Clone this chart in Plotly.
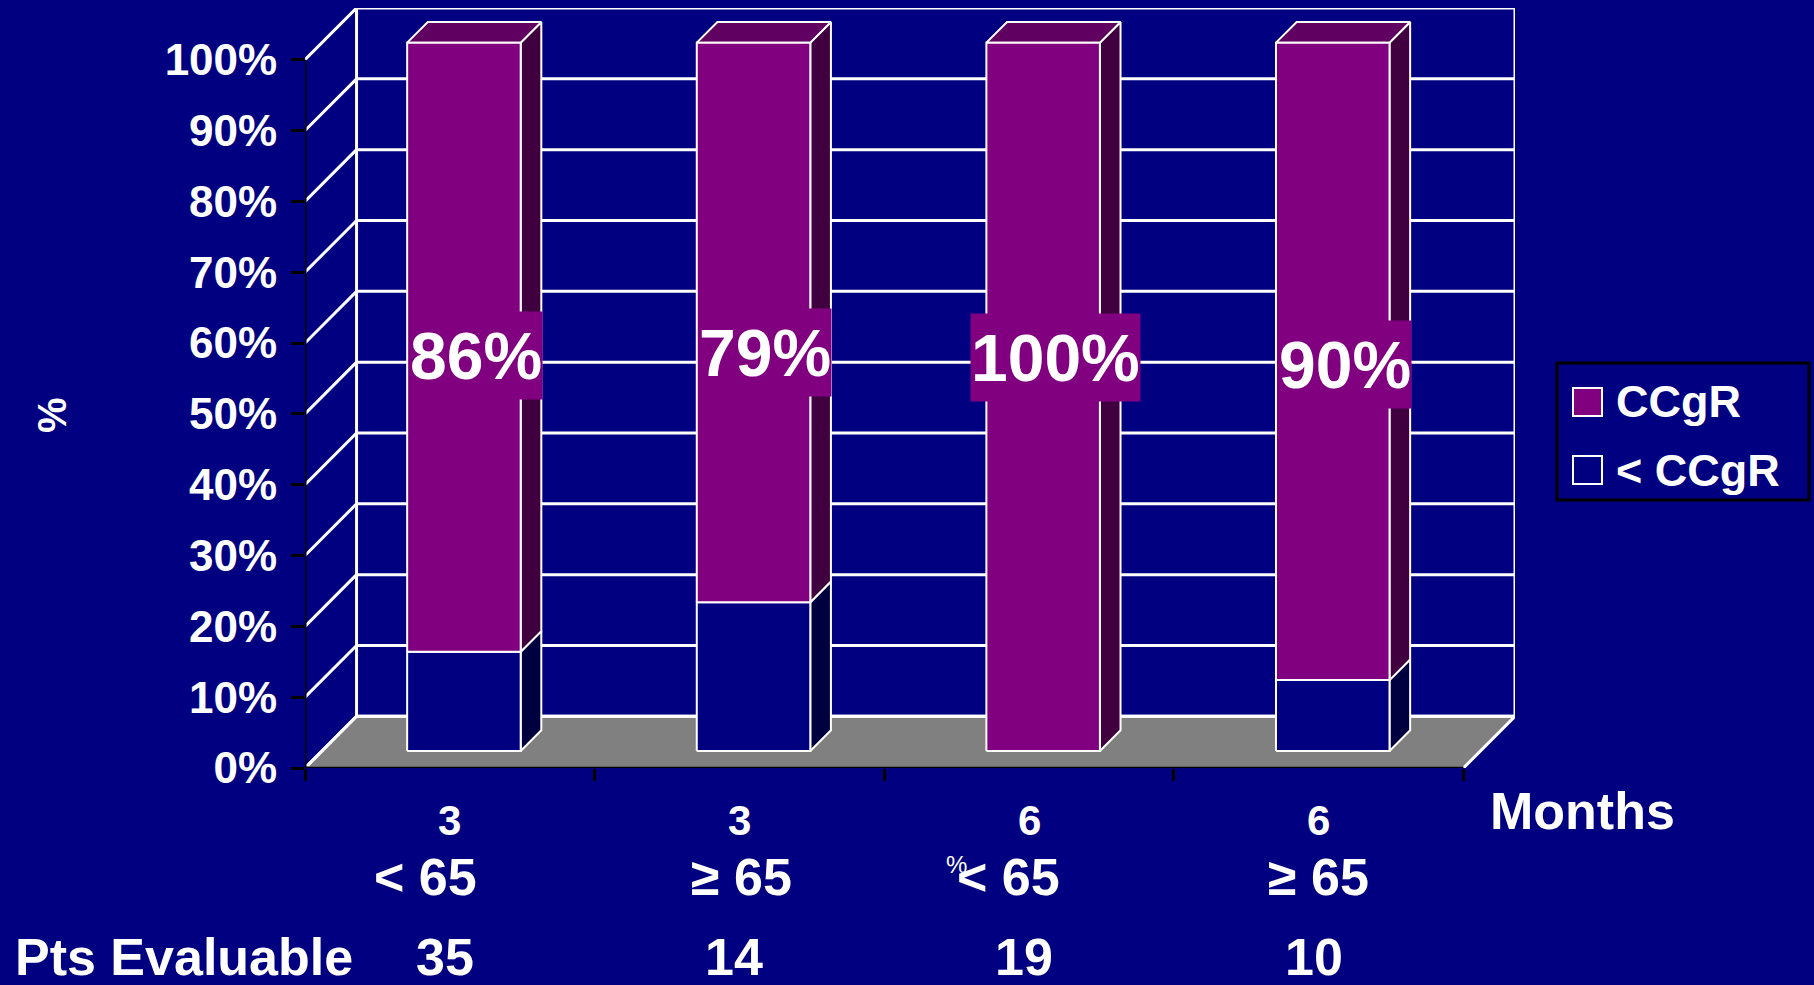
import plotly.graph_objects as go

# ---- data -------------------------------------------------------------
months = ["3", "3", "6", "6"]
age_groups = ["< 65", "\u2265 65", "< 65", "\u2265 65"]
pts_evaluable = [35, 14, 19, 10]
ccgr = [86, 79, 100, 90]          # % with complete cytogenetic response
below_ccgr = [14, 21, 0, 10]      # % with less than CCgR
y_ticks = [0, 10, 20, 30, 40, 50, 60, 70, 80, 90, 100]

# ---- styling / geometry ----------------------------------------------
W, H = 1814, 985
PL, PR, PT, PB = 305, 1515, 8, 768          # plot-area edges in pixels
NAVY = "#000080"
PURPLE = "#800080"
FONT = "Liberation Sans, Arial, sans-serif"
N = len(months)
DX, DY = 0.178, 7.3           # oblique depth offset in axis units
F0, F1 = 0.33, 0.73           # bar front/back depth fractions
BAR_C, BAR_HW = 0.49, 0.196   # bar centre within category, half-width

series = [
    dict(name="< CCgR", values=below_ccgr,
         front=NAVY, side="#000040", top="#000060"),
    dict(name="CCgR", values=ccgr,
         front=PURPLE, side="#400040", top="#600060"),
]


def paper_x(pix):
    return (pix - PL) / (PR - PL)


def paper_y(pix):
    return (PB - pix) / (PB - PT)


def bold(size):
    return dict(family=FONT, size=size, color="white", weight="bold")


fig = go.Figure()


def poly(xs, ys, fill, line_color="white", width=2):
    fig.add_trace(go.Scatter(
        x=list(xs) + [xs[0]], y=list(ys) + [ys[0]],
        mode="lines", fill="toself", fillcolor=fill,
        line=dict(color=line_color, width=width),
        showlegend=False, hoverinfo="skip"))


def seg(xs, ys, color, width):
    fig.add_trace(go.Scatter(
        x=xs, y=ys, mode="lines", line=dict(color=color, width=width),
        showlegend=False, hoverinfo="skip"))


# floor
poly([0, N, N + DX, DX], [0, 0, DY, DY], "#808080", width=3)

# back wall and side wall grid
for t in y_ticks:
    seg([DX, N + DX], [t + DY, t + DY], "white", 3)
    seg([0, DX], [t, t + DY], "white", 3)
seg([DX, DX], [DY, 100 + DY], "white", 3)
seg([N + DX, N + DX], [DY, 100 + DY], "white", 3)

# front axis lines (black)
seg([0, 0], [0, 100], "black", 3)
seg([0, N], [0, 0], "black", 3)

# stacked 3-D bars
for i in range(N):
    x0 = i + BAR_C - BAR_HW
    x1 = i + BAR_C + BAR_HW
    ax0, ay0 = F0 * DX, F0 * DY
    ax1, ay1 = F1 * DX, F1 * DY
    base = 0
    total = sum(s["values"][i] for s in series)
    for s in series:
        v = s["values"][i]
        if v <= 0:
            continue
        yb, yt = base, base + v
        # side face
        poly([x1 + ax0, x1 + ax1, x1 + ax1, x1 + ax0],
             [yb + ay0, yb + ay1, yt + ay1, yt + ay0], s["side"])
        # top face for the uppermost segment
        if yt >= total:
            poly([x0 + ax0, x1 + ax0, x1 + ax1, x0 + ax1],
                 [yt + ay0, yt + ay0, yt + ay1, yt + ay1], s["top"])
        # front face
        poly([x0 + ax0, x1 + ax0, x1 + ax0, x0 + ax0],
             [yb + ay0, yb + ay0, yt + ay0, yt + ay0], s["front"])
        base = yt

annotations = []

# value labels on the bars
label_y = [58.2, 58.6, 58.0, 57.0]
for i, v in enumerate(ccgr):
    annotations.append(dict(
        x=i + 0.59, y=label_y[i], xref="x", yref="y",
        xanchor="center", yanchor="middle", height=87,
        text=f"{v}%", showarrow=False, bgcolor=PURPLE, borderpad=0,
        font=bold(66)))

# category labels
age_shift = [-24, 2, -21, 0]
for i in range(N):
    annotations.append(dict(
        x=i + 0.5, y=paper_y(820), xref="x", yref="paper", text=months[i],
        xanchor="center", yanchor="middle", showarrow=False, font=bold(42)))
    annotations.append(dict(
        x=i + 0.5, y=paper_y(877), xref="x", yref="paper", text=age_groups[i],
        xanchor="center", yanchor="middle", xshift=age_shift[i],
        showarrow=False, font=bold(52)))
    annotations.append(dict(
        x=i + 0.5, y=paper_y(957), xref="x", yref="paper",
        text=str(pts_evaluable[i]), xanchor="center", yanchor="middle",
        xshift=-5, showarrow=False, font=bold(52)))

annotations.append(dict(
    x=paper_x(13), y=paper_y(957), xref="paper", yref="paper",
    text="Pts Evaluable", xanchor="left", yanchor="middle",
    showarrow=False, font=bold(52)))
annotations.append(dict(
    x=paper_x(1582), y=paper_y(811), xref="paper", yref="paper",
    text="Months", xanchor="center", yanchor="middle",
    showarrow=False, font=bold(52)))
annotations.append(dict(
    x=paper_x(52), y=paper_y(415), xref="paper", yref="paper",
    text="%", textangle=-90, xanchor="center", yanchor="middle",
    showarrow=False, font=bold(40)))
annotations.append(dict(
    x=paper_x(956), y=paper_y(865), xref="paper", yref="paper",
    text="%", xanchor="center", yanchor="middle", showarrow=False,
    font=dict(family=FONT, size=24, color="white")))

# legend
shapes = [dict(type="rect", xref="paper", yref="paper",
               x0=paper_x(1557), x1=paper_x(1809),
               y0=paper_y(500), y1=paper_y(363),
               line=dict(color="black", width=3), fillcolor=NAVY)]
legend_rows = [(series[1], 402), (series[0], 470)]
for s, cy in legend_rows:
    shapes.append(dict(type="rect", xref="paper", yref="paper",
                       x0=paper_x(1573), x1=paper_x(1602),
                       y0=paper_y(cy + 14), y1=paper_y(cy - 14),
                       line=dict(color="white", width=2), fillcolor=s["front"]))
    annotations.append(dict(
        x=paper_x(1614), y=paper_y(cy), xref="paper", yref="paper",
        text=s["name"], xanchor="left", yanchor="middle", showarrow=False,
        font=bold(45)))

fig.update_layout(
    width=W, height=H,
    margin=dict(l=PL, r=W - PR, t=PT, b=H - PB, pad=0),
    paper_bgcolor=NAVY, plot_bgcolor=NAVY,
    showlegend=False,
    annotations=annotations, shapes=shapes,
    xaxis=dict(range=[0, N + DX], tickvals=list(range(N + 1)),
               ticktext=[""] * (N + 1), ticks="outside", ticklen=12,
               tickwidth=3, tickcolor="black", showgrid=False,
               zeroline=False, showline=False, fixedrange=True),
    yaxis=dict(range=[0, 100 + DY], tickvals=y_ticks,
               ticktext=[f"{t}%" for t in y_ticks], ticks="outside",
               ticklen=13, tickwidth=3, tickcolor="black",
               tickfont=bold(44), ticklabelstandoff=5,
               showgrid=False, zeroline=False, showline=False, fixedrange=True),
)

fig.write_html("out.html")
